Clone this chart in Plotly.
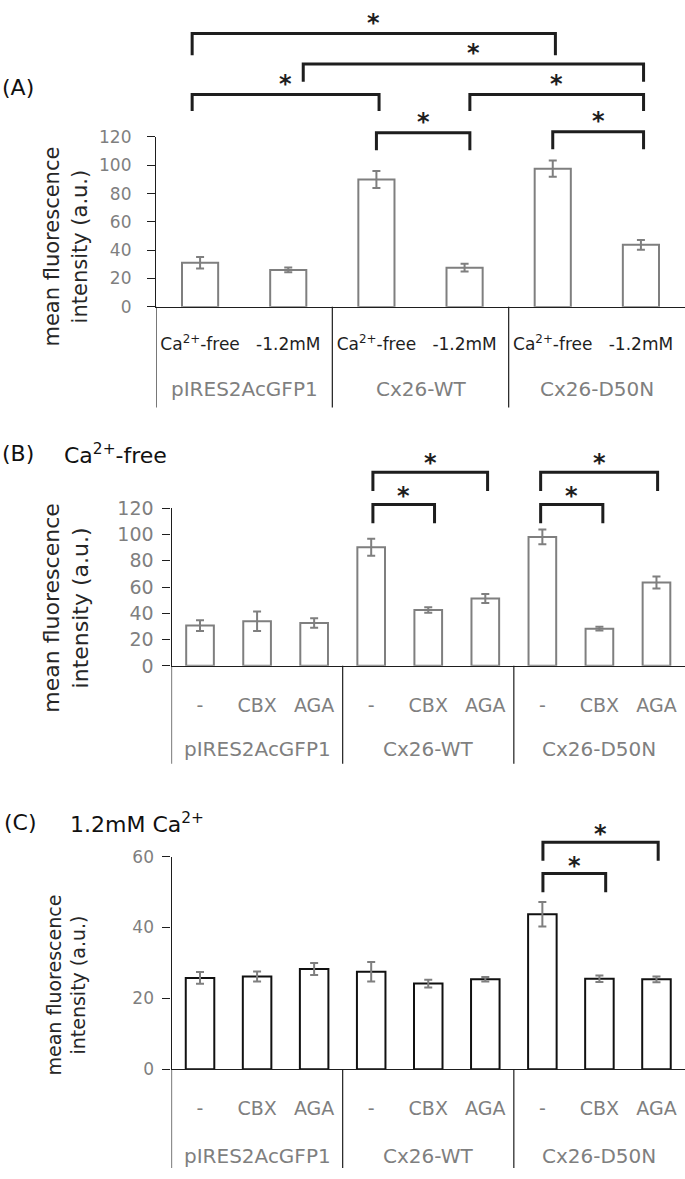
import plotly.graph_objects as go

W, H = 685, 1179

# ---------------- data ----------------
groups = ["pIRES2AcGFP1", "Cx26-WT", "Cx26-D50N"]
a_conditions = ["Ca<sup>2+</sup>-free", "-1.2mM"]
bc_treatments = ["-", "CBX", "AGA"]

a_means = [31.2, 26.1, 90.0, 27.7, 97.6, 43.8]
a_errors = [4.1, 1.7, 6.0, 2.8, 5.8, 3.5]

b_means = [30.7, 34.0, 32.7, 90.3, 42.6, 51.3, 98.2, 28.3, 63.5]
b_errors = [4.1, 7.4, 3.6, 6.4, 2.1, 3.5, 5.6, 1.4, 4.6]

c_means = [25.8, 26.2, 28.3, 27.5, 24.2, 25.4, 43.75, 25.55, 25.4]
c_errors = [1.65, 1.4, 1.7, 2.75, 1.1, 0.65, 3.45, 0.9, 0.8]

a_pairs = [(0, 4), (1, 5), (0, 2), (3, 5), (2, 3), (4, 5)]
b_pairs = [(3, 4), (3, 5), (6, 7), (6, 8)]
c_pairs = [(6, 7), (6, 8)]
sig_mark = "<b>*</b>"

y_title = "mean fluorescence<br>intensity (a.u.)"
a_label = "(A)"
b_label = "(B)"
b_title = "Ca<sup>2+</sup>-free"
c_label = "(C)"
c_title = "1.2mM Ca<sup>2+</sup>"

# ---------------- layout helpers (pixel -> paper) ----------------
def px(p):
    return p / W


def py(p):
    return 1 - p / H


FONT = "DejaVu Sans"
GRAY = "#7f7f7f"
DARK = "#1e1e1e"

panels = [
    dict(means=a_means, errors=a_errors, subs=a_conditions, pairs=a_pairs,
         xdom=(156, W), ytop=128.3, ybot=301.5, yrange=[0, 120], dtick=20,
         barcolor=GRAY, bargap=0.59, tickfs=17, subfs=17, subcolor=DARK,
         sub_standoff=22, grp_y=385, div_bottom=404, tick_standoff=12,
         title_y=240, title_fs=21,
         brackets=[(23, 45, -0.09, 0.03), (54, 72, 0.17, 0.03), (85, 102, -0.09, 0.03),
                   (85, 102, 0.06, 0.03), (124, 142, 0.0, 0.06), (123, 141, 0.0, 0.03)],
         star_off=17),
    dict(means=b_means, errors=b_errors, subs=bc_treatments, pairs=b_pairs,
         xdom=(171.5, W), ytop=506.7, ybot=667.3, yrange=[0, 120], dtick=20,
         barcolor=GRAY, bargap=0.515, tickfs=19, subfs=19, subcolor=GRAY,
         sub_standoff=22, grp_y=752, div_bottom=767, tick_standoff=5,
         title_y=609, title_fs=22,
         brackets=[(503, 522, 0.03, 0.11), (470, 489, 0.03, 0.04),
                   (503, 522, -0.03, 0.06), (470, 489, -0.03, 0.02)],
         star_off=15),
    dict(means=c_means, errors=c_errors, subs=bc_treatments, pairs=c_pairs,
         xdom=(171.5, W), ytop=861.7, ybot=1078.5, yrange=[0, 60], dtick=20,
         barcolor="#111111", bargap=0.5, tickfs=17, subfs=19, subcolor=GRAY,
         sub_standoff=22, grp_y=1167, div_bottom=1179, tick_standoff=5,
         title_y=993, title_fs=19,
         brackets=[(879, 898, 0.01, 0.11), (847, 866, 0.01, 0.03)],
         star_off=14),
]

fig = go.Figure()
shapes = []
annotations = []

for k, p in enumerate(panels):
    sfx = "" if k == 0 else str(k + 1)
    xa, ya = "x" + sfx, "y" + sfx
    n_sub = len(p["subs"])
    n = len(groups) * n_sub
    xs = list(range(n))
    ticktext = [p["subs"][i % n_sub] for i in xs]

    fig.add_trace(go.Bar(
        x=xs, y=p["means"], xaxis=xa, yaxis=ya, width=1 - p["bargap"],
        marker=dict(color="white", line=dict(color=p["barcolor"], width=2)),
        error_y=dict(type="data", array=p["errors"], visible=True,
                     color=GRAY, thickness=2, width=4),
        showlegend=False, hoverinfo="skip",
    ))

    fig.layout["xaxis" + sfx] = dict(
        domain=[px(p["xdom"][0]), px(p["xdom"][1])], anchor=ya,
        range=[-0.5, n - 0.5], tickmode="array", tickvals=xs, ticktext=ticktext,
        ticks="", ticklabelstandoff=p["sub_standoff"],
        tickfont=dict(family=FONT, size=p["subfs"], color=p["subcolor"]),
        showline=True, linecolor=DARK, linewidth=1.2, showgrid=False, zeroline=False,
        fixedrange=True,
    )
    fig.layout["yaxis" + sfx] = dict(
        domain=[py(p["ybot"]), py(p["ytop"])], anchor=xa,
        range=p["yrange"], dtick=p["dtick"], tick0=0,
        ticks="outside", ticklen=8, tickwidth=1.2, tickcolor=DARK,
        ticklabelstandoff=p["tick_standoff"],
        tickfont=dict(family=FONT, size=p["tickfs"], color=GRAY),
        showline=True, linecolor=DARK, linewidth=1.2, showgrid=False, zeroline=False,
        fixedrange=True,
    )

    # group dividers (extend below axis, through label rows) + group labels
    for g in range(len(groups)):
        xb = g * n_sub - 0.5
        shapes.append(dict(type="line", xref=xa, yref="paper",
                           x0=xb, x1=xb, y0=py(p["ybot"]), y1=py(p["div_bottom"]),
                           line=dict(color=DARK, width=1.2)))
        annotations.append(dict(
            x=g * n_sub + (n_sub - 1) / 2, y=py(p["grp_y"]), xref=xa, yref="paper",
            text=groups[g], showarrow=False, xanchor="center", yanchor="middle",
            font=dict(family=FONT, size=20, color=GRAY)))

    # significance brackets
    for (i, j), (ytop, ybot, dl, dr) in zip(p["pairs"], p["brackets"]):
        x0, x1 = i + dl, j + dr
        shapes.append(dict(
            type="path", xref=xa, yref="paper",
            path=f"M {x0},{py(ybot)} L {x0},{py(ytop)} L {x1},{py(ytop)} L {x1},{py(ybot)}",
            line=dict(color=DARK, width=3)))
        annotations.append(dict(
            x=(x0 + x1) / 2, y=py(ytop - p["star_off"] + 6), xref=xa, yref="paper",
            text=sig_mark, showarrow=False, xanchor="center", yanchor="middle",
            font=dict(family=FONT, size=24, color=DARK)))

    # y-axis title
    annotations.append(dict(
        x=px(66), y=py(p["title_y"]), xref="paper", yref="paper", text=y_title,
        textangle=-90, showarrow=False, xanchor="center", yanchor="middle",
        font=dict(family=FONT, size=p["title_fs"], color="#262626")))

# panel labels
for txt, x, y in [(a_label, 0, 78), (b_label, 0, 451), (b_title, 62, 451),
                  (c_label, 2, 827), (c_title, 68, 827)]:
    annotations.append(dict(
        x=px(x), y=py(y), xref="paper", yref="paper", text=txt, showarrow=False,
        xanchor="left", yanchor="middle", font=dict(family=FONT, size=22, color="#111111")))

fig.update_layout(
    width=W, height=H, margin=dict(l=0, r=0, t=0, b=0),
    paper_bgcolor="white", plot_bgcolor="white",
    shapes=shapes, annotations=annotations, showlegend=False,
    font=dict(family=FONT),
)

fig.write_html("out.html", config={"displayModeBar": False},
               post_script="document.body.style.margin='0';")
